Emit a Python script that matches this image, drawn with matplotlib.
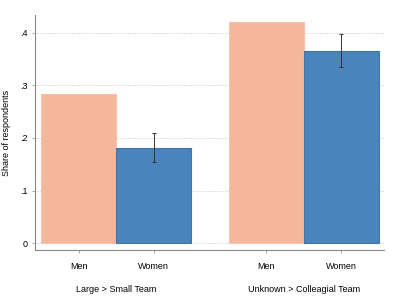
import matplotlib
matplotlib.use("Agg")
from matplotlib import pyplot as plt

plt.rcParams['font.family'] = ['Liberation Sans', 'DejaVu Sans']

groups = ["Large > Small Team", "Unknown > Colleagial Team"]
genders = ["Men", "Women"]
men = [0.284, 0.421]
women = [0.181, 0.366]
women_lo = [0.154, 0.335]
women_hi = [0.210, 0.397]

men_x = [0, 2.5]
women_x = [1, 3.5]

fig = plt.figure(figsize=(4, 3), dpi=100)
ax = fig.add_axes([0.0875, 0.167, 0.8725, 0.783])

ax.bar(men_x, men, width=1, color="#f4b79b", edgecolor="#f7c4ab", linewidth=0.8, zorder=2)
ax.bar(women_x, women, width=1, color="#4a84bb", edgecolor="#3f76ae", linewidth=0.8, zorder=2)
err = [[w - lo for w, lo in zip(women, women_lo)], [hi - w for w, hi in zip(women, women_hi)]]
ax.errorbar(women_x, women, yerr=err, fmt="none", ecolor="#333333", elinewidth=0.7,
            capsize=1.5, capthick=0.7, zorder=3)

ax.set_xlim(-0.58, 4.07)
ax.set_ylim(-0.013, 0.434)
ax.set_yticks([0, 0.1, 0.2, 0.3, 0.4])
ax.set_yticklabels(["0", ".1", ".2", ".3", ".4"], fontsize=6.5)
ticks = [men_x[0], women_x[0], men_x[1], women_x[1]]
ax.set_xticks(ticks)
ax.set_xticklabels(genders + genders, fontsize=6.5)
ax.grid(axis="y", linestyle=(0, (1, 1.5)), color="#c8c8c8", linewidth=0.7, zorder=0)
ax.set_axisbelow(True)
ax.tick_params(length=2, color="#999999", width=0.6, pad=3)
ax.tick_params(axis="x", pad=7)
for s in ["top", "right"]:
    ax.spines[s].set_visible(False)
for s in ["left", "bottom"]:
    ax.spines[s].set_color("#888888")
    ax.spines[s].set_linewidth(0.8)
ax.set_ylabel("Share of respondents", fontsize=6.5, labelpad=7)

for i, g in enumerate(groups):
    ax.text((men_x[i] + women_x[i]) / 2, -0.088, g, fontsize=6.5, ha="center", va="center",
            transform=ax.transData)

fig.savefig("out.png", dpi=100)
